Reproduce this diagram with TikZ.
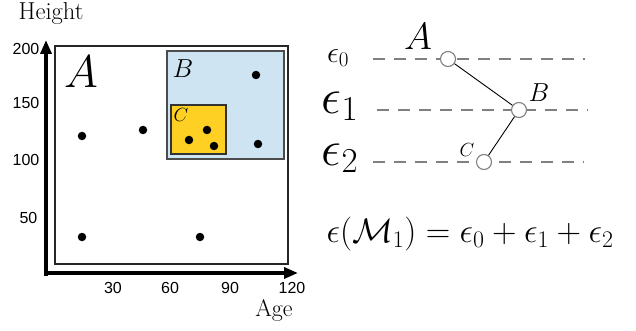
\documentclass[tikz,border=0pt]{standalone}
\usepackage{fix-cm}
\usepackage{fontspec}
\newfontfamily\numfont{Liberation Sans}
\usetikzlibrary{arrows.meta}
\definecolor{bblue}{RGB}{207,228,242}
\definecolor{cgold}{RGB}{253,208,35}
\definecolor{dgray}{RGB}{128,128,128}
\newcommand{\fs}[1]{\fontsize{#1}{#1}\selectfont}
\tikzset{
  axis/.style={line width=3.4pt,-{Triangle[length=14pt,width=11pt]}},
  tick/.style={font=\numfont\fs{16}, inner sep=0pt},
  dot/.style={circle,fill=black,inner sep=0pt,minimum size=8.5pt},
  tnode/.style={circle,draw=dgray,fill=white,line width=1.1pt,inner sep=0pt,minimum size=15pt},
  level/.style={dgray,line width=1.2pt,dash pattern=on 12pt off 9pt},
  edge/.style={black,line width=0.9pt},
  lbl/.style={inner sep=0pt}
}
\begin{document}
\begin{tikzpicture}[x=1pt,y=-1pt]
\useasboundingbox (0,0) rectangle (636,331);
% plot frame
\draw[line width=1.1pt,black!85] (55,46) rectangle (288,264);
\draw[fill=bblue,draw=black!70,line width=1.4pt] (167,51) rectangle (284,159);
\draw[fill=cgold,draw=black!80,line width=1.4pt] (171,105) rectangle (226,154);
% axes
\coordinate (ytip) at (46,40);
\coordinate (xtip) at (298,273);
\draw[axis] (46,276) -- (ytip);
\draw[axis] (44,273) -- (xtip);
\node[lbl,font=\fs{24.5}] (hl) at (51,14) {Height};
\node[lbl,font=\fs{24}] (al) at (274,310) {Age};
\node[tick] (y200) at (26,49) {200};
\node[tick] (y150) at (26,103) {150};
\node[tick] (y100) at (26,160) {100};
\node[tick] (y50) at (28.5,218) {50};
\node[tick] (x30) at (113,288) {30};
\node[tick] (x60) at (170,288) {60};
\node[tick] (x90) at (230,288) {90};
\node[tick] (x120) at (292,288) {120};
% region labels
\node[lbl,font=\fs{46}] (LA) at (81,72) {$A$};
\node[lbl,font=\fs{26}] (LB) at (183,69) {$B$};
\node[lbl,font=\fs{19}] (LC) at (181,115) {$C$};
% dots
\node[dot] (d1) at (82,136) {};
\node[dot] (d2) at (143,130) {};
\node[dot] (d3) at (256,75) {};
\node[dot] (d4) at (258,144) {};
\node[dot] (d5) at (189,140) {};
\node[dot] (d6) at (207,130) {};
\node[dot] (d7) at (214,146) {};
\node[dot] (d8) at (82,237) {};
\node[dot] (d9) at (200,237) {};
% tree levels
\coordinate (l0a) at (373,59); \coordinate (l0b) at (585,59);
\coordinate (l1a) at (377,110); \coordinate (l1b) at (588,110);
\coordinate (l2a) at (373,162); \coordinate (l2b) at (584,162);
\draw[level] (l0a) -- (l0b);
\draw[level] (l1a) -- (l1b);
\draw[level] (l2a) -- (l2b);
\node[tnode] (TA) at (448,59) {};
\node[tnode] (TB) at (519,110) {};
\node[tnode] (TC) at (484,162) {};
\draw[edge] (TA) -- (TB);
\draw[edge] (TB) -- (TC);
\node[lbl,font=\fs{38}] (tAl) at (418,37) {$A$};
\node[lbl,font=\fs{26}] (tBl) at (539,93) {$B$};
\node[lbl,font=\fs{19}] (tCl) at (467,150) {$C$};
\node[lbl,font=\fs{30}] (e0) at (338,58) {$\epsilon_0$};
\node[lbl,font=\fs{50}] (e1) at (340,106) {$\epsilon_1$};
\node[lbl,font=\fs{50}] (e2) at (340,158) {$\epsilon_2$};
\node[lbl,font=\fs{34}] (form) at (470,234) {$\epsilon(\mathcal{M}_1)=\epsilon_0+\epsilon_1+\epsilon_2$};
\end{tikzpicture}
\end{document}
